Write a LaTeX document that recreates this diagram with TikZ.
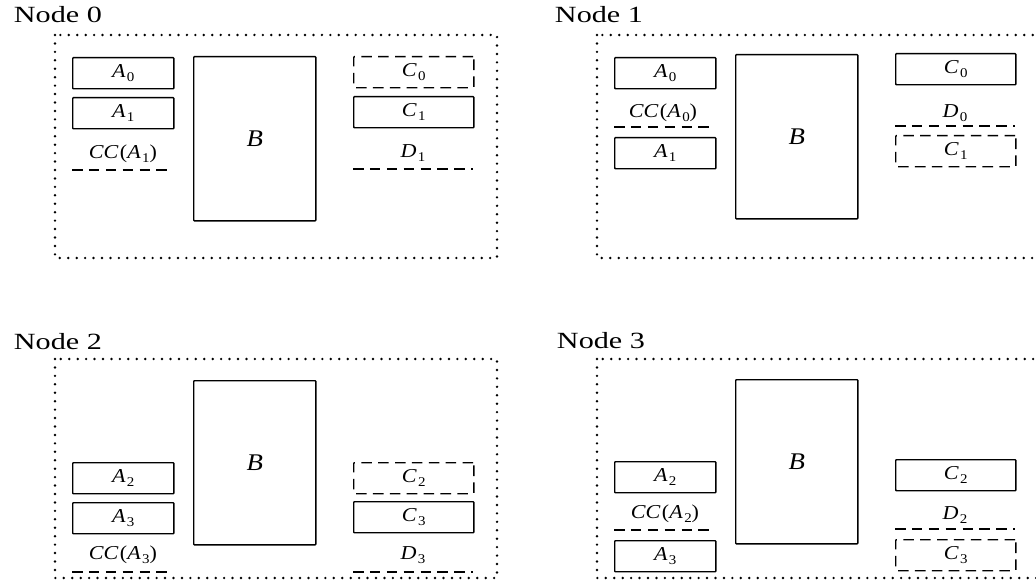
\documentclass[tikz,border=0pt]{standalone}
\usepackage{fontspec}
\setmainfont{Liberation Serif}
\newfontfamily\lblfont[FakeStretch=1.12]{Liberation Serif}
\newfontfamily\ttlfont[FakeStretch=1.3]{Liberation Serif}
\usetikzlibrary{positioning}

% italic letter and lowered index
\newcommand{\itl}[1]{\textit{#1}}
\newcommand{\lsub}[1]{\kern1pt\raisebox{-0.45ex}{\fontsize{9.5}{10}\selectfont #1}}

\tikzset{
  nodeframe/.style={line width=1.9pt, dash pattern=on 0pt off 6pt, line cap=round},
  solidbox/.style={draw, line width=1.05pt, rounded corners=0.5pt, anchor=north west, inner sep=0pt},
  dashbox/.style={solidbox, dash pattern=on 7.5pt off 4.5pt},
  abox/.style={minimum width=2.525cm, minimum height=0.775cm},
  cbox/.style={minimum width=3.0cm, minimum height=0.775cm},
  bbox/.style={solidbox, minimum width=3.05cm, minimum height=4.1cm, font=\lblfont\fontsize{17}{19}\selectfont},
  dashline/.style={line width=1pt, dash pattern=on 7.5pt off 4.5pt},
  lbl/.style={font=\lblfont\fontsize{14}{16}\selectfont},
  title/.style={anchor=west, font=\ttlfont\fontsize{16.5}{18}\selectfont}
}

\begin{document}
\begin{tikzpicture}[x=0.025cm, y=-0.025cm, lbl]
\useasboundingbox (0,0) rectangle (1036,582);

%TITLES
\node[title] (t0) at (9,15) {Node 0};
\node[title] (t1) at (550,15) {Node 1};
\node[title] (t2) at (9,342) {Node 2};
\node[title] (t3) at (552,341) {Node 3};

%NODE 0
\begin{scope}[shift={(55,35)}]
 \draw[nodeframe] (0,0) rectangle (442,223);
 \node[solidbox,abox] (p0a0) at (17,22) {\itl{A}\lsub{0}};
 \node[solidbox,abox] (p0a1) at (17,62) {\itl{A}\lsub{1}};
 \node (p0cc) at (68,119) {\itl{CC}\kern1pt(\itl{A}\lsub{1})};
 \draw[dashline] (17,135) -- (118,135);
 \node[bbox] (p0b) at (138,21) {\itl{B}};
 \node[dashbox,cbox] (p0c0) at (298,21) {\itl{C}\lsub{0}};
 \node[solidbox,cbox] (p0c1) at (298,61) {\itl{C}\lsub{1}};
 \node (p0d) at (358,118) {\itl{D}\lsub{1}};
 \draw[dashline] (298,134) -- (418,134);
\end{scope}

%NODE 1
\begin{scope}[shift={(597,35)}]
 \draw[nodeframe] (0,0) rectangle (442,223);
 \node[solidbox,abox] (p1a0) at (17,22) {\itl{A}\lsub{0}};
 \node (p1cc) at (66,78) {\itl{CC}\kern1pt(\itl{A}\lsub{0})};
 \draw[dashline] (17,92) -- (118,92);
 \node[solidbox,abox] (p1a1) at (17,102) {\itl{A}\lsub{1}};
 \node[bbox] (p1b) at (138,19) {\itl{B}};
 \node[solidbox,cbox] (p1c0) at (298,18) {\itl{C}\lsub{0}};
 \node (p1d) at (358,78) {\itl{D}\lsub{0}};
 \draw[dashline] (298,91) -- (418,91);
 \node[dashbox,cbox] (p1c1) at (298,100) {\itl{C}\lsub{1}};
\end{scope}

%NODE 2
\begin{scope}[shift={(55,359)}]
 \draw[nodeframe] (0,0) rectangle (442,219);
 \node[solidbox,abox] (p2a2) at (17,103) {\itl{A}\lsub{2}};
 \node[solidbox,abox] (p2a3) at (17,143) {\itl{A}\lsub{3}};
 \node (p2cc) at (68,196) {\itl{CC}\kern1pt(\itl{A}\lsub{3})};
 \draw[dashline] (17,213) -- (118,213);
 \node[bbox] (p2b) at (138,21) {\itl{B}};
 \node[dashbox,cbox] (p2c2) at (298,103) {\itl{C}\lsub{2}};
 \node[solidbox,cbox] (p2c3) at (298,142) {\itl{C}\lsub{3}};
 \node (p2d) at (358,196) {\itl{D}\lsub{3}};
 \draw[dashline] (298,213) -- (418,213);
\end{scope}

%NODE 3
\begin{scope}[shift={(597,359)}]
 \draw[nodeframe] (0,0) rectangle (442,219);
 \node[solidbox,abox] (p3a2) at (17,102) {\itl{A}\lsub{2}};
 \node (p3cc) at (68,155) {\itl{CC}\kern1pt(\itl{A}\lsub{2})};
 \draw[dashline] (17,171) -- (118,171);
 \node[solidbox,abox] (p3a3) at (17,181) {\itl{A}\lsub{3}};
 \node[bbox] (p3b) at (138,20) {\itl{B}};
 \node[solidbox,cbox] (p3c2) at (298,100) {\itl{C}\lsub{2}};
 \node (p3d) at (358,156) {\itl{D}\lsub{2}};
 \draw[dashline] (298,170) -- (418,170);
 \node[dashbox,cbox] (p3c3) at (298,180) {\itl{C}\lsub{3}};
\end{scope}
\end{tikzpicture}
\end{document}
